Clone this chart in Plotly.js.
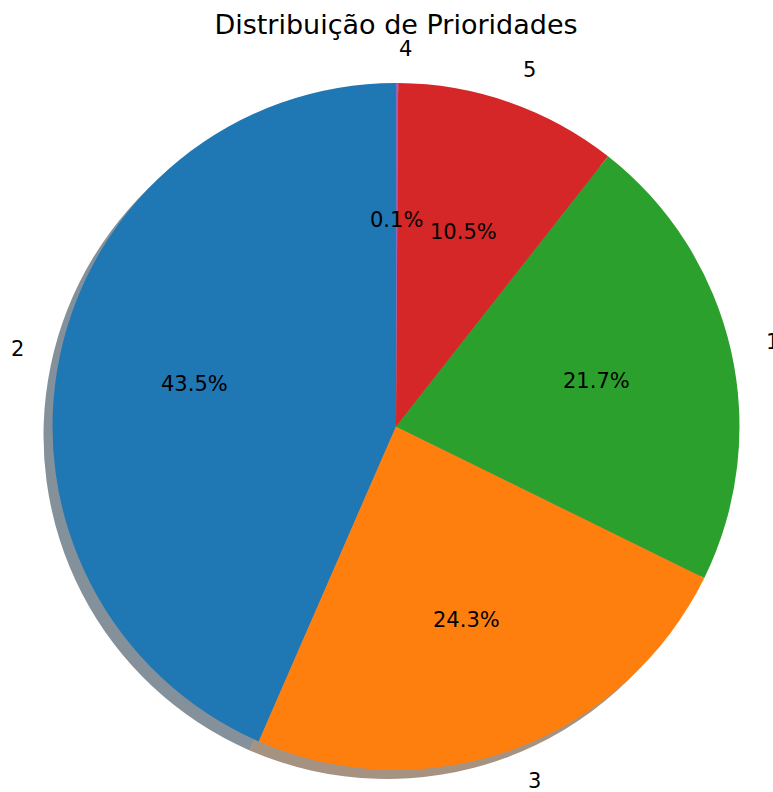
<!DOCTYPE html>
<html>
<head>
<meta charset="utf-8">
<script src="https://cdn.plot.ly/plotly-3.0.1.min.js"></script>
<style>html,body{margin:0;padding:0;background:#fff;}</style>
</head>
<body>
<div id="chart" style="width:773px;height:792px;"></div>
<script>
// Data
const categories = ["2", "3", "1", "5", "4"];
const values = [43.5, 24.3, 21.7, 10.5, 0.1];
const colors = ["#1f77b4", "#ff7f0e", "#2ca02c", "#d62728", "#9467bd"];
const chartTitle = "Distribuição de Prioridades";

const W = 773, H = 792;
const cx = 396, cy = 426.5, R = 343.5; // pie centre / radius in pixels
const shadowOff = 9;                   // shadow offset in pixels

function dom(cxp, cyp) {
  return {
    x: [(cxp - R) / W, (cxp + R) / W],
    y: [1 - (cyp + R) / H, 1 - (cyp - R) / H]
  };
}

function shade(hex) {
  const r = parseInt(hex.slice(1, 3), 16), g = parseInt(hex.slice(3, 5), 16), b = parseInt(hex.slice(5, 7), 16);
  return `rgba(${Math.round(r * 0.3)},${Math.round(g * 0.3)},${Math.round(b * 0.3)},0.5)`;
}

const total = values.reduce((a, b) => a + b, 0);
// Plotly's counterclockwise mode places the first slice to the right of the
// rotation angle; rotate so that the first slice starts at 12 o'clock and
// the slices run anticlockwise (matplotlib startangle=90).
const rot = -360 * values[0] / total;

const shadowTrace = {
  type: "pie", values: values, labels: categories, sort: false,
  direction: "counterclockwise", rotation: rot,
  marker: { colors: colors.map(shade), line: { width: 0 } },
  textinfo: "none", hoverinfo: "skip", showlegend: false,
  domain: dom(cx - shadowOff, cy + shadowOff)
};
const pieTrace = {
  type: "pie", values: values, labels: categories, sort: false,
  direction: "counterclockwise", rotation: rot,
  marker: { colors: colors, line: { width: 0 } },
  textinfo: "none", showlegend: false,
  domain: dom(cx, cy)
};

// Labels at 1.1 R and percentages at 0.6 R, positioned from the data
const annotations = [];
let cum = 0;
const font = { family: "DejaVu Sans, sans-serif", size: 21, color: "#000" };
values.forEach((v, i) => {
  const frac = v / total;
  const mid = (90 + 360 * (cum + frac / 2)) * Math.PI / 180;
  cum += frac;
  const c = Math.cos(mid), s = Math.sin(mid);
  const lx = cx + 1.1 * R * c, ly = cy - 1.1 * R * s;
  annotations.push({
    xref: "paper", yref: "paper", x: lx / W, y: 1 - ly / H,
    text: categories[i], showarrow: false, font: font,
    xanchor: c > 0 ? "left" : "right", yanchor: "middle"
  });
  const px = cx + 0.6 * R * c, py = cy - 0.6 * R * s;
  annotations.push({
    xref: "paper", yref: "paper", x: px / W, y: 1 - py / H,
    text: (100 * frac).toFixed(1) + "%", showarrow: false, font: font,
    xanchor: "center", yanchor: "middle"
  });
});

const layout = {
  width: W, height: H,
  margin: { l: 0, r: 0, t: 0, b: 0 },
  paper_bgcolor: "#fff", plot_bgcolor: "#fff",
  title: {
    text: chartTitle, xref: "paper", yref: "paper",
    x: cx / W, y: 1 - 25 / H, xanchor: "center", yanchor: "middle",
    font: { family: "DejaVu Sans, sans-serif", size: 27, color: "#000" }
  },
  annotations: annotations,
  showlegend: false
};

Plotly.newPlot("chart", [shadowTrace, pieTrace], layout, { displayModeBar: false, staticPlot: true });
</script>
</body>
</html>
